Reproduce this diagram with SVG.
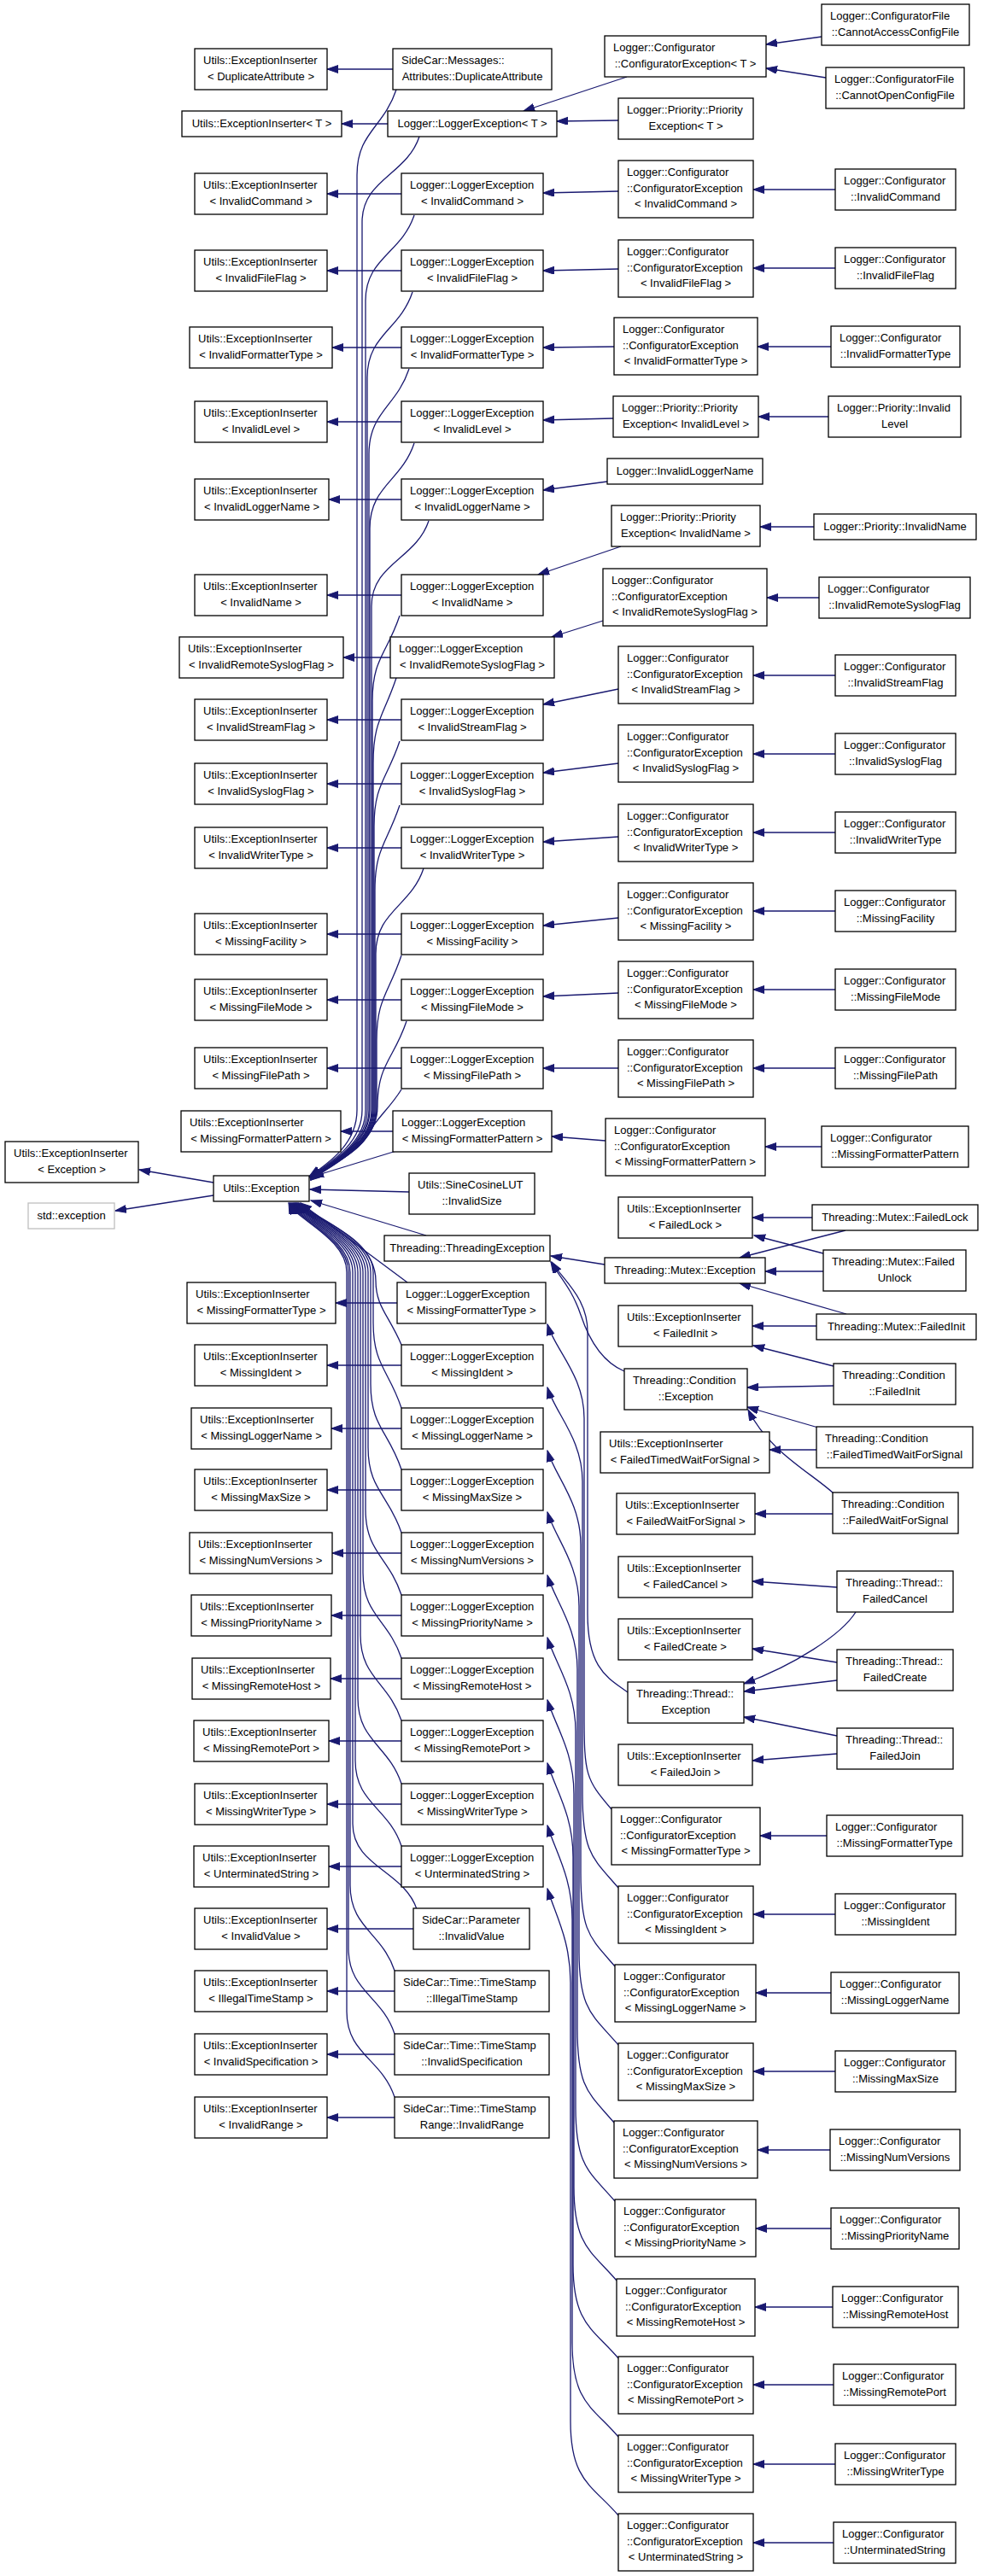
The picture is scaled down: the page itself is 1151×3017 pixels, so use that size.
<svg xmlns="http://www.w3.org/2000/svg" width="1151" height="3017" viewBox="0 0 1151 3017">
<style>
.b{fill:#fff;stroke:#000;stroke-width:1.3}
.g{fill:#fff;stroke:#bfbfbf;stroke-width:1.3}
text{font-family:"Liberation Sans",Arial,sans-serif;font-size:13px;fill:#000}
.c{text-anchor:middle}
#edges path{fill:none;stroke:#191970;stroke-width:1.3;marker-end:url(#a)}
</style>
<defs>
<marker id="a" markerWidth="14" markerHeight="10" refX="13" refY="4.5" orient="auto" markerUnits="userSpaceOnUse"><path d="M0,0 L13,4.5 L0,9 z" fill="#191970" stroke="#191970" stroke-width="1"/></marker>
</defs>
<rect width="1151" height="3017" fill="#fff"/>
<g id="edges">
<path d="M460,81 L383,81"/>
<path d="M454,145 L400,145"/>
<path d="M470,227 L383,227"/>
<path d="M470,317 L383,317"/>
<path d="M470,407 L389,407"/>
<path d="M470,494 L383,494"/>
<path d="M470,585 L385,585"/>
<path d="M470,697 L383,697"/>
<path d="M457,770 L402,770"/>
<path d="M470,843 L383,843"/>
<path d="M470,918 L383,918"/>
<path d="M470,993 L383,993"/>
<path d="M470,1094 L383,1094"/>
<path d="M470,1171 L383,1171"/>
<path d="M470,1251 L383,1251"/>
<path d="M460,1325 L399,1325"/>
<path d="M465,1526 L393,1526"/>
<path d="M470,1599 L383,1599"/>
<path d="M470,1673 L388,1673"/>
<path d="M470,1745 L383,1745"/>
<path d="M470,1819 L389,1819"/>
<path d="M470,1892 L388,1892"/>
<path d="M470,1966 L387,1966"/>
<path d="M470,2039 L385,2039"/>
<path d="M470,2113 L383,2113"/>
<path d="M470,2186 L385,2186"/>
<path d="M484,2259 L383,2259"/>
<path d="M462,2332 L383,2332"/>
<path d="M462,2406 L383,2406"/>
<path d="M462,2480 L383,2480"/>
<path d="M978,222 L882,222"/>
<path d="M978,314 L882,314"/>
<path d="M973,406 L887,406"/>
<path d="M970,488 L888,488"/>
<path d="M953,617 L890,617"/>
<path d="M959,700 L898,700"/>
<path d="M978,791 L882,791"/>
<path d="M978,883 L882,883"/>
<path d="M978,975 L882,975"/>
<path d="M978,1067 L882,1067"/>
<path d="M978,1159 L882,1159"/>
<path d="M978,1251 L882,1251"/>
<path d="M962,1343 L896,1343"/>
<path d="M968,2150 L890,2150"/>
<path d="M978,2242 L882,2242"/>
<path d="M973,2334 L885,2334"/>
<path d="M978,2426 L882,2426"/>
<path d="M972,2518 L887,2518"/>
<path d="M973,2610 L885,2610"/>
<path d="M975,2702 L884,2702"/>
<path d="M976,2793 L882,2793"/>
<path d="M978,2886 L882,2886"/>
<path d="M976,2978 L882,2978"/>
<path d="M962,43 L897,52"/>
<path d="M967,91 L897,80"/>
<path d="M734,90 L613,130"/>
<path d="M724,141 L652,142"/>
<path d="M724,224 L636,226"/>
<path d="M724,315 L636,317"/>
<path d="M719,406 L636,407"/>
<path d="M718,490 L636,492"/>
<path d="M711,564 L636,574"/>
<path d="M727,640 L630,673"/>
<path d="M706,727 L646,746"/>
<path d="M724,807 L636,825"/>
<path d="M724,894 L636,905"/>
<path d="M724,980 L636,986"/>
<path d="M724,1075 L636,1084"/>
<path d="M724,1163 L636,1167"/>
<path d="M724,1251 L636,1251"/>
<path d="M709,1336 L646,1331"/>
<path d="M464,105 C449,150 418,155 418,205 L418,1300 C418,1340 385,1362 362,1378"/>
<path d="M491,160 C476,205 424,210 424,260 L424,1300 C424,1340 386,1362 363,1378"/>
<path d="M485,252 C470,297 428,302 428,352 L428,1300 C428,1340 387,1362 363,1379"/>
<path d="M483,342 C468,387 430,392 430,442 L430,1300 C430,1340 388,1362 364,1379"/>
<path d="M479,432 C464,477 432,482 432,532 L432,1300 C432,1340 388,1362 364,1379"/>
<path d="M485,519 C470,564 433,569 433,619 L433,1300 C433,1340 389,1362 364,1380"/>
<path d="M502,610 C487,655 435,660 435,710 L435,1300 C435,1340 389,1362 364,1380"/>
<path d="M468,721 C453,766 436,771 436,821 L436,1300 C436,1340 390,1362 364,1380"/>
<path d="M464,794 C449,839 437,844 437,894 L437,1300 C437,1340 390,1362 364,1380"/>
<path d="M468,868 C453,913 438,918 438,968 L438,1300 C438,1340 390,1362 364,1381"/>
<path d="M468,943 C453,988 439,993 439,1043 L439,1300 C439,1340 391,1362 364,1381"/>
<path d="M496,1017 C481,1062 440,1067 440,1117 L440,1300 C440,1340 391,1362 364,1381"/>
<path d="M470,1119 C455,1164 441,1169 441,1219 L441,1300 C441,1340 392,1362 364,1381"/>
<path d="M476,1196 C461,1241 442,1246 442,1296 C442,1340 392,1362 364,1382"/>
<path d="M470,1276 C455,1300 440,1310 430,1330 C420,1350 385,1365 364,1382"/>
<path d="M464,1348 L366,1378"/>
<path d="M250,1385 L163,1370"/>
<path d="M250,1400 L135,1418"/>
<path d="M479,1396 L363,1393"/>
<path d="M499,1447 L364,1406"/>
<path d="M477,1502 L352,1409"/>
<path d="M470,1575 C455,1540 440,1530 440,1500 C440,1450 370,1428 350,1409"/>
<path d="M470,1649 C455,1604 437,1599 437,1549 L437,1490 C437,1450 368,1428 349,1409"/>
<path d="M470,1721 C455,1676 434,1671 434,1621 L434,1490 C434,1450 366,1428 348,1409"/>
<path d="M470,1795 C455,1750 431,1745 431,1695 L431,1490 C431,1450 364,1428 347,1409"/>
<path d="M470,1868 C455,1823 428,1818 428,1768 L428,1490 C428,1450 362,1428 346,1409"/>
<path d="M470,1942 C455,1897 425,1892 425,1842 L425,1490 C425,1450 360,1428 345,1409"/>
<path d="M470,2015 C455,1970 422,1965 422,1915 L422,1490 C422,1450 358,1428 344,1409"/>
<path d="M470,2089 C455,2044 419,2039 419,1989 L419,1490 C419,1450 356,1428 343,1409"/>
<path d="M470,2162 C455,2117 416,2112 416,2062 L416,1490 C416,1450 354,1428 342,1409"/>
<path d="M488,2236 C473,2191 413,2186 413,2136 L413,1490 C413,1450 352,1428 341,1409"/>
<path d="M462,2308 C447,2263 410,2258 410,2208 L410,1490 C410,1450 350,1428 340,1409"/>
<path d="M462,2382 C447,2337 408,2332 408,2282 L408,1490 C408,1450 348,1428 339,1409"/>
<path d="M462,2456 C447,2411 406,2406 406,2356 L406,1490 C406,1450 346,1428 338,1409"/>
<path d="M716,2119 C686,2084 684,2079 684,2009 L684,1661 C684,1611 650,1581 641,1551"/>
<path d="M724,2211 C694,2176 682,2171 682,2101 L682,1735 C682,1685 650,1655 641,1625"/>
<path d="M720,2303 C690,2268 680,2263 680,2193 L680,1809 C680,1759 650,1729 641,1699"/>
<path d="M724,2395 C694,2360 678,2355 678,2285 L678,1881 C678,1831 650,1801 641,1771"/>
<path d="M719,2486 C689,2451 676,2446 676,2376 L676,1955 C676,1905 650,1875 641,1845"/>
<path d="M720,2578 C690,2543 674,2538 674,2468 L674,2028 C674,1978 650,1948 641,1918"/>
<path d="M722,2671 C692,2636 672,2631 672,2561 L672,2101 C672,2051 650,2021 641,1991"/>
<path d="M724,2762 C694,2727 671,2722 671,2652 L671,2175 C671,2125 650,2095 641,2065"/>
<path d="M724,2854 C694,2819 670,2814 670,2744 L670,2248 C670,2198 650,2168 641,2138"/>
<path d="M724,2946 C694,2911 668,2906 668,2836 L668,2322 C668,2272 650,2242 641,2212"/>
<path d="M735,1982 C712,1965 688,1955 688,1890 L688,1560 C688,1520 660,1500 646,1478"/>
<path d="M731,1606 C705,1595 690,1570 680,1540 C670,1510 655,1495 645,1478"/>
<path d="M708,1481 L645,1471"/>
<path d="M951,1426 L881,1426"/>
<path d="M990,1441 L866,1473"/>
<path d="M964,1468 L883,1447"/>
<path d="M964,1489 L896,1489"/>
<path d="M956,1553 L881,1553"/>
<path d="M991,1539 L866,1503"/>
<path d="M976,1600 L882,1576"/>
<path d="M976,1623 L875,1625"/>
<path d="M956,1698 L901,1698"/>
<path d="M958,1672 L875,1648"/>
<path d="M975,1773 L884,1773"/>
<path d="M976,1749 C950,1725 900,1700 876,1651"/>
<path d="M980,1859 L881,1852"/>
<path d="M1002,1888 C985,1915 930,1950 871,1972"/>
<path d="M980,1947 L881,1931"/>
<path d="M980,1968 L871,1981"/>
<path d="M980,2033 L871,2011"/>
<path d="M980,2054 L881,2062"/>
</g>
<g id="n_ei_dup"><rect class="b" x="228" y="57" width="155" height="48"/><text x="238" y="75">Utils::ExceptionInserter</text><text class="c" x="305.5" y="93.5">&lt; DuplicateAttribute &gt;</text></g>
<g id="n_dup"><rect class="b" x="460" y="57" width="186" height="48"/><text x="470" y="75">SideCar::Messages::</text><text class="c" x="553" y="93.5">Attributes::DuplicateAttribute</text></g>
<g id="n_ce_t"><rect class="b" x="708" y="42" width="189" height="48"/><text x="718" y="60">Logger::Configurator</text><text class="c" x="802.5" y="78.5">::ConfiguratorException&lt; T &gt;</text></g>
<g id="n_cacf"><rect class="b" x="962" y="5" width="173" height="48"/><text x="972" y="23">Logger::ConfiguratorFile</text><text class="c" x="1048.5" y="41.5">::CannotAccessConfigFile</text></g>
<g id="n_cocf"><rect class="b" x="967" y="79" width="162" height="48"/><text x="977" y="97">Logger::ConfiguratorFile</text><text class="c" x="1048" y="115.5">::CannotOpenConfigFile</text></g>
<g id="n_ei_t"><rect class="b" x="213" y="130" width="187" height="30"/><text class="c" x="306.5" y="148.5">Utils::ExceptionInserter&lt; T &gt;</text></g>
<g id="n_le_t"><rect class="b" x="454" y="130" width="198" height="30"/><text class="c" x="553" y="148.5">Logger::LoggerException&lt; T &gt;</text></g>
<g id="n_pe_t"><rect class="b" x="724" y="115" width="158" height="48"/><text x="734" y="133">Logger::Priority::Priority</text><text class="c" x="803" y="151.5">Exception&lt; T &gt;</text></g>
<g id="n_ei_ic"><rect class="b" x="228" y="203" width="155" height="48"/><text x="238" y="221">Utils::ExceptionInserter</text><text class="c" x="305.5" y="239.5">&lt; InvalidCommand &gt;</text></g>
<g id="n_le_ic"><rect class="b" x="470" y="203" width="166" height="48"/><text x="480" y="221">Logger::LoggerException</text><text class="c" x="553" y="239.5">&lt; InvalidCommand &gt;</text></g>
<g id="n_ce_ic"><rect class="b" x="724" y="188" width="158" height="67"/><text x="734" y="206">Logger::Configurator</text><text x="734" y="224.5">::ConfiguratorException</text><text class="c" x="803" y="243">&lt; InvalidCommand &gt;</text></g>
<g id="n_c_ic"><rect class="b" x="978" y="198" width="141" height="48"/><text x="988" y="216">Logger::Configurator</text><text class="c" x="1048.5" y="234.5">::InvalidCommand</text></g>
<g id="n_ei_iff"><rect class="b" x="228" y="293" width="155" height="48"/><text x="238" y="311">Utils::ExceptionInserter</text><text class="c" x="305.5" y="329.5">&lt; InvalidFileFlag &gt;</text></g>
<g id="n_le_iff"><rect class="b" x="470" y="293" width="166" height="48"/><text x="480" y="311">Logger::LoggerException</text><text class="c" x="553" y="329.5">&lt; InvalidFileFlag &gt;</text></g>
<g id="n_ce_iff"><rect class="b" x="724" y="281" width="158" height="67"/><text x="734" y="299">Logger::Configurator</text><text x="734" y="317.5">::ConfiguratorException</text><text class="c" x="803" y="336">&lt; InvalidFileFlag &gt;</text></g>
<g id="n_c_iff"><rect class="b" x="978" y="290" width="141" height="48"/><text x="988" y="308">Logger::Configurator</text><text class="c" x="1048.5" y="326.5">::InvalidFileFlag</text></g>
<g id="n_ei_ift"><rect class="b" x="222" y="383" width="167" height="48"/><text x="232" y="401">Utils::ExceptionInserter</text><text class="c" x="305.5" y="419.5">&lt; InvalidFormatterType &gt;</text></g>
<g id="n_le_ift"><rect class="b" x="470" y="383" width="166" height="48"/><text x="480" y="401">Logger::LoggerException</text><text class="c" x="553" y="419.5">&lt; InvalidFormatterType &gt;</text></g>
<g id="n_ce_ift"><rect class="b" x="719" y="372" width="168" height="67"/><text x="729" y="390">Logger::Configurator</text><text x="729" y="408.5">::ConfiguratorException</text><text class="c" x="803" y="427">&lt; InvalidFormatterType &gt;</text></g>
<g id="n_c_ift"><rect class="b" x="973" y="382" width="151" height="48"/><text x="983" y="400">Logger::Configurator</text><text class="c" x="1048.5" y="418.5">::InvalidFormatterType</text></g>
<g id="n_ei_il"><rect class="b" x="228" y="470" width="155" height="48"/><text x="238" y="488">Utils::ExceptionInserter</text><text class="c" x="305.5" y="506.5">&lt; InvalidLevel &gt;</text></g>
<g id="n_le_il"><rect class="b" x="470" y="470" width="166" height="48"/><text x="480" y="488">Logger::LoggerException</text><text class="c" x="553" y="506.5">&lt; InvalidLevel &gt;</text></g>
<g id="n_pe_il"><rect class="b" x="718" y="464" width="170" height="48"/><text x="728" y="482">Logger::Priority::Priority</text><text class="c" x="803" y="500.5">Exception&lt; InvalidLevel &gt;</text></g>
<g id="n_p_il"><rect class="b" x="970" y="464" width="155" height="48"/><text x="980" y="482">Logger::Priority::Invalid</text><text class="c" x="1047.5" y="500.5">Level</text></g>
<g id="n_iln"><rect class="b" x="711" y="537" width="182" height="30"/><text class="c" x="802" y="555.5">Logger::InvalidLoggerName</text></g>
<g id="n_ei_iln"><rect class="b" x="228" y="561" width="157" height="48"/><text x="238" y="579">Utils::ExceptionInserter</text><text class="c" x="306.5" y="597.5">&lt; InvalidLoggerName &gt;</text></g>
<g id="n_le_iln"><rect class="b" x="470" y="561" width="166" height="48"/><text x="480" y="579">Logger::LoggerException</text><text class="c" x="553" y="597.5">&lt; InvalidLoggerName &gt;</text></g>
<g id="n_pe_in"><rect class="b" x="716" y="592" width="174" height="48"/><text x="726" y="610">Logger::Priority::Priority</text><text class="c" x="803" y="628.5">Exception&lt; InvalidName &gt;</text></g>
<g id="n_p_in"><rect class="b" x="953" y="602" width="190" height="30"/><text class="c" x="1048" y="620.5">Logger::Priority::InvalidName</text></g>
<g id="n_ei_in"><rect class="b" x="228" y="673" width="155" height="48"/><text x="238" y="691">Utils::ExceptionInserter</text><text class="c" x="305.5" y="709.5">&lt; InvalidName &gt;</text></g>
<g id="n_le_in"><rect class="b" x="470" y="673" width="166" height="48"/><text x="480" y="691">Logger::LoggerException</text><text class="c" x="553" y="709.5">&lt; InvalidName &gt;</text></g>
<g id="n_ce_irsf"><rect class="b" x="706" y="666" width="192" height="67"/><text x="716" y="684">Logger::Configurator</text><text x="716" y="702.5">::ConfiguratorException</text><text class="c" x="802" y="721">&lt; InvalidRemoteSyslogFlag &gt;</text></g>
<g id="n_c_irsf"><rect class="b" x="959" y="676" width="177" height="48"/><text x="969" y="694">Logger::Configurator</text><text class="c" x="1047.5" y="712.5">::InvalidRemoteSyslogFlag</text></g>
<g id="n_ei_irsf"><rect class="b" x="210" y="746" width="192" height="48"/><text x="220" y="764">Utils::ExceptionInserter</text><text class="c" x="306" y="782.5">&lt; InvalidRemoteSyslogFlag &gt;</text></g>
<g id="n_le_irsf"><rect class="b" x="457" y="746" width="192" height="48"/><text x="467" y="764">Logger::LoggerException</text><text class="c" x="553" y="782.5">&lt; InvalidRemoteSyslogFlag &gt;</text></g>
<g id="n_ce_isf"><rect class="b" x="724" y="757" width="158" height="67"/><text x="734" y="775">Logger::Configurator</text><text x="734" y="793.5">::ConfiguratorException</text><text class="c" x="803" y="812">&lt; InvalidStreamFlag &gt;</text></g>
<g id="n_c_isf"><rect class="b" x="978" y="767" width="141" height="48"/><text x="988" y="785">Logger::Configurator</text><text class="c" x="1048.5" y="803.5">::InvalidStreamFlag</text></g>
<g id="n_ei_isf"><rect class="b" x="228" y="819" width="155" height="48"/><text x="238" y="837">Utils::ExceptionInserter</text><text class="c" x="305.5" y="855.5">&lt; InvalidStreamFlag &gt;</text></g>
<g id="n_le_isf"><rect class="b" x="470" y="819" width="166" height="48"/><text x="480" y="837">Logger::LoggerException</text><text class="c" x="553" y="855.5">&lt; InvalidStreamFlag &gt;</text></g>
<g id="n_ce_isyf"><rect class="b" x="724" y="849" width="158" height="67"/><text x="734" y="867">Logger::Configurator</text><text x="734" y="885.5">::ConfiguratorException</text><text class="c" x="803" y="904">&lt; InvalidSyslogFlag &gt;</text></g>
<g id="n_c_isyf"><rect class="b" x="978" y="859" width="141" height="48"/><text x="988" y="877">Logger::Configurator</text><text class="c" x="1048.5" y="895.5">::InvalidSyslogFlag</text></g>
<g id="n_ei_isyf"><rect class="b" x="228" y="894" width="155" height="48"/><text x="238" y="912">Utils::ExceptionInserter</text><text class="c" x="305.5" y="930.5">&lt; InvalidSyslogFlag &gt;</text></g>
<g id="n_le_isyf"><rect class="b" x="470" y="894" width="166" height="48"/><text x="480" y="912">Logger::LoggerException</text><text class="c" x="553" y="930.5">&lt; InvalidSyslogFlag &gt;</text></g>
<g id="n_ce_iwt"><rect class="b" x="724" y="942" width="158" height="67"/><text x="734" y="960">Logger::Configurator</text><text x="734" y="978.5">::ConfiguratorException</text><text class="c" x="803" y="997">&lt; InvalidWriterType &gt;</text></g>
<g id="n_c_iwt"><rect class="b" x="978" y="951" width="141" height="48"/><text x="988" y="969">Logger::Configurator</text><text class="c" x="1048.5" y="987.5">::InvalidWriterType</text></g>
<g id="n_ei_iwt"><rect class="b" x="228" y="969" width="155" height="48"/><text x="238" y="987">Utils::ExceptionInserter</text><text class="c" x="305.5" y="1005.5">&lt; InvalidWriterType &gt;</text></g>
<g id="n_le_iwt"><rect class="b" x="470" y="969" width="166" height="48"/><text x="480" y="987">Logger::LoggerException</text><text class="c" x="553" y="1005.5">&lt; InvalidWriterType &gt;</text></g>
<g id="n_ce_mfa"><rect class="b" x="724" y="1034" width="158" height="67"/><text x="734" y="1052">Logger::Configurator</text><text x="734" y="1070.5">::ConfiguratorException</text><text class="c" x="803" y="1089">&lt; MissingFacility &gt;</text></g>
<g id="n_c_mfa"><rect class="b" x="978" y="1043" width="141" height="48"/><text x="988" y="1061">Logger::Configurator</text><text class="c" x="1048.5" y="1079.5">::MissingFacility</text></g>
<g id="n_ei_mfa"><rect class="b" x="228" y="1070" width="155" height="48"/><text x="238" y="1088">Utils::ExceptionInserter</text><text class="c" x="305.5" y="1106.5">&lt; MissingFacility &gt;</text></g>
<g id="n_le_mfa"><rect class="b" x="470" y="1070" width="166" height="48"/><text x="480" y="1088">Logger::LoggerException</text><text class="c" x="553" y="1106.5">&lt; MissingFacility &gt;</text></g>
<g id="n_ce_mfm"><rect class="b" x="724" y="1126" width="158" height="67"/><text x="734" y="1144">Logger::Configurator</text><text x="734" y="1162.5">::ConfiguratorException</text><text class="c" x="803" y="1181">&lt; MissingFileMode &gt;</text></g>
<g id="n_c_mfm"><rect class="b" x="978" y="1135" width="141" height="48"/><text x="988" y="1153">Logger::Configurator</text><text class="c" x="1048.5" y="1171.5">::MissingFileMode</text></g>
<g id="n_ei_mfm"><rect class="b" x="228" y="1147" width="155" height="48"/><text x="238" y="1165">Utils::ExceptionInserter</text><text class="c" x="305.5" y="1183.5">&lt; MissingFileMode &gt;</text></g>
<g id="n_le_mfm"><rect class="b" x="470" y="1147" width="166" height="48"/><text x="480" y="1165">Logger::LoggerException</text><text class="c" x="553" y="1183.5">&lt; MissingFileMode &gt;</text></g>
<g id="n_ce_mfp"><rect class="b" x="724" y="1218" width="158" height="67"/><text x="734" y="1236">Logger::Configurator</text><text x="734" y="1254.5">::ConfiguratorException</text><text class="c" x="803" y="1273">&lt; MissingFilePath &gt;</text></g>
<g id="n_c_mfp"><rect class="b" x="978" y="1227" width="141" height="48"/><text x="988" y="1245">Logger::Configurator</text><text class="c" x="1048.5" y="1263.5">::MissingFilePath</text></g>
<g id="n_ei_mfp"><rect class="b" x="228" y="1227" width="155" height="48"/><text x="238" y="1245">Utils::ExceptionInserter</text><text class="c" x="305.5" y="1263.5">&lt; MissingFilePath &gt;</text></g>
<g id="n_le_mfp"><rect class="b" x="470" y="1227" width="166" height="48"/><text x="480" y="1245">Logger::LoggerException</text><text class="c" x="553" y="1263.5">&lt; MissingFilePath &gt;</text></g>
<g id="n_ei_mfpat"><rect class="b" x="212" y="1301" width="187" height="48"/><text x="222" y="1319">Utils::ExceptionInserter</text><text class="c" x="305.5" y="1337.5">&lt; MissingFormatterPattern &gt;</text></g>
<g id="n_le_mfpat"><rect class="b" x="460" y="1301" width="186" height="48"/><text x="470" y="1319">Logger::LoggerException</text><text class="c" x="553" y="1337.5">&lt; MissingFormatterPattern &gt;</text></g>
<g id="n_ce_mfpat"><rect class="b" x="709" y="1310" width="187" height="67"/><text x="719" y="1328">Logger::Configurator</text><text x="719" y="1346.5">::ConfiguratorException</text><text class="c" x="802.5" y="1365">&lt; MissingFormatterPattern &gt;</text></g>
<g id="n_c_mfpat"><rect class="b" x="962" y="1319" width="172" height="48"/><text x="972" y="1337">Logger::Configurator</text><text class="c" x="1048" y="1355.5">::MissingFormatterPattern</text></g>
<g id="n_ei_exc"><rect class="b" x="6" y="1337" width="156" height="48"/><text x="16" y="1355">Utils::ExceptionInserter</text><text class="c" x="84" y="1373.5">&lt; Exception &gt;</text></g>
<g id="n_uexc"><rect class="b" x="250" y="1377" width="112" height="30"/><text class="c" x="306" y="1395.5">Utils::Exception</text></g>
<g id="n_stdexc"><rect class="g" x="33" y="1409" width="101" height="30"/><text class="c" x="83.5" y="1427.5">std::exception</text></g>
<g id="n_scl"><rect class="b" x="479" y="1374" width="147" height="48"/><text x="489" y="1392">Utils::SineCosineLUT</text><text class="c" x="552.5" y="1410.5">::InvalidSize</text></g>
<g id="n_ei_fl"><rect class="b" x="724" y="1402" width="157" height="48"/><text x="734" y="1420">Utils::ExceptionInserter</text><text class="c" x="802.5" y="1438.5">&lt; FailedLock &gt;</text></g>
<g id="n_m_fl"><rect class="b" x="951" y="1411" width="194" height="30"/><text class="c" x="1048" y="1429.5">Threading::Mutex::FailedLock</text></g>
<g id="n_thexc"><rect class="b" x="450" y="1447" width="194" height="30"/><text class="c" x="547" y="1465.5">Threading::ThreadingException</text></g>
<g id="n_m_exc"><rect class="b" x="708" y="1473" width="188" height="30"/><text class="c" x="802" y="1491.5">Threading::Mutex::Exception</text></g>
<g id="n_m_fu"><rect class="b" x="964" y="1464" width="167" height="48"/><text x="974" y="1482">Threading::Mutex::Failed</text><text class="c" x="1047.5" y="1500.5">Unlock</text></g>
<g id="n_ei_mft"><rect class="b" x="219" y="1502" width="174" height="48"/><text x="229" y="1520">Utils::ExceptionInserter</text><text class="c" x="306" y="1538.5">&lt; MissingFormatterType &gt;</text></g>
<g id="n_le_mft"><rect class="b" x="465" y="1502" width="174" height="48"/><text x="475" y="1520">Logger::LoggerException</text><text class="c" x="552" y="1538.5">&lt; MissingFormatterType &gt;</text></g>
<g id="n_ei_fi"><rect class="b" x="724" y="1529" width="157" height="48"/><text x="734" y="1547">Utils::ExceptionInserter</text><text class="c" x="802.5" y="1565.5">&lt; FailedInit &gt;</text></g>
<g id="n_m_fi"><rect class="b" x="956" y="1539" width="187" height="30"/><text class="c" x="1049.5" y="1557.5">Threading::Mutex::FailedInit</text></g>
<g id="n_ei_mi"><rect class="b" x="228" y="1575" width="155" height="48"/><text x="238" y="1593">Utils::ExceptionInserter</text><text class="c" x="305.5" y="1611.5">&lt; MissingIdent &gt;</text></g>
<g id="n_le_mi"><rect class="b" x="470" y="1575" width="166" height="48"/><text x="480" y="1593">Logger::LoggerException</text><text class="c" x="553" y="1611.5">&lt; MissingIdent &gt;</text></g>
<g id="n_c_exc"><rect class="b" x="731" y="1603" width="144" height="48"/><text x="741" y="1621">Threading::Condition</text><text class="c" x="803" y="1639.5">::Exception</text></g>
<g id="n_c_fi"><rect class="b" x="976" y="1597" width="143" height="48"/><text x="986" y="1615">Threading::Condition</text><text class="c" x="1047.5" y="1633.5">::FailedInit</text></g>
<g id="n_ei_mln"><rect class="b" x="224" y="1649" width="164" height="48"/><text x="234" y="1667">Utils::ExceptionInserter</text><text class="c" x="306" y="1685.5">&lt; MissingLoggerName &gt;</text></g>
<g id="n_le_mln"><rect class="b" x="470" y="1649" width="166" height="48"/><text x="480" y="1667">Logger::LoggerException</text><text class="c" x="553" y="1685.5">&lt; MissingLoggerName &gt;</text></g>
<g id="n_c_ftw"><rect class="b" x="956" y="1671" width="183" height="48"/><text x="966" y="1689">Threading::Condition</text><text class="c" x="1047.5" y="1707.5">::FailedTimedWaitForSignal</text></g>
<g id="n_ei_ftw"><rect class="b" x="703" y="1677" width="198" height="48"/><text x="713" y="1695">Utils::ExceptionInserter</text><text class="c" x="802" y="1713.5">&lt; FailedTimedWaitForSignal &gt;</text></g>
<g id="n_ei_mms"><rect class="b" x="228" y="1721" width="155" height="48"/><text x="238" y="1739">Utils::ExceptionInserter</text><text class="c" x="305.5" y="1757.5">&lt; MissingMaxSize &gt;</text></g>
<g id="n_le_mms"><rect class="b" x="470" y="1721" width="166" height="48"/><text x="480" y="1739">Logger::LoggerException</text><text class="c" x="553" y="1757.5">&lt; MissingMaxSize &gt;</text></g>
<g id="n_c_fw"><rect class="b" x="975" y="1748" width="147" height="48"/><text x="985" y="1766">Threading::Condition</text><text class="c" x="1048.5" y="1784.5">::FailedWaitForSignal</text></g>
<g id="n_ei_fw"><rect class="b" x="722" y="1749" width="162" height="48"/><text x="732" y="1767">Utils::ExceptionInserter</text><text class="c" x="803" y="1785.5">&lt; FailedWaitForSignal &gt;</text></g>
<g id="n_ei_mnv"><rect class="b" x="222" y="1795" width="167" height="48"/><text x="232" y="1813">Utils::ExceptionInserter</text><text class="c" x="305.5" y="1831.5">&lt; MissingNumVersions &gt;</text></g>
<g id="n_le_mnv"><rect class="b" x="470" y="1795" width="166" height="48"/><text x="480" y="1813">Logger::LoggerException</text><text class="c" x="553" y="1831.5">&lt; MissingNumVersions &gt;</text></g>
<g id="n_ei_fc"><rect class="b" x="724" y="1823" width="157" height="48"/><text x="734" y="1841">Utils::ExceptionInserter</text><text class="c" x="802.5" y="1859.5">&lt; FailedCancel &gt;</text></g>
<g id="n_t_fc"><rect class="b" x="980" y="1840" width="136" height="48"/><text x="990" y="1858">Threading::Thread::</text><text class="c" x="1048" y="1876.5">FailedCancel</text></g>
<g id="n_ei_mpn"><rect class="b" x="224" y="1868" width="164" height="48"/><text x="234" y="1886">Utils::ExceptionInserter</text><text class="c" x="306" y="1904.5">&lt; MissingPriorityName &gt;</text></g>
<g id="n_le_mpn"><rect class="b" x="470" y="1868" width="166" height="48"/><text x="480" y="1886">Logger::LoggerException</text><text class="c" x="553" y="1904.5">&lt; MissingPriorityName &gt;</text></g>
<g id="n_ei_fcr"><rect class="b" x="724" y="1896" width="157" height="48"/><text x="734" y="1914">Utils::ExceptionInserter</text><text class="c" x="802.5" y="1932.5">&lt; FailedCreate &gt;</text></g>
<g id="n_t_fcr"><rect class="b" x="980" y="1932" width="136" height="48"/><text x="990" y="1950">Threading::Thread::</text><text class="c" x="1048" y="1968.5">FailedCreate</text></g>
<g id="n_ei_mrh"><rect class="b" x="225" y="1942" width="162" height="48"/><text x="235" y="1960">Utils::ExceptionInserter</text><text class="c" x="306" y="1978.5">&lt; MissingRemoteHost &gt;</text></g>
<g id="n_le_mrh"><rect class="b" x="470" y="1942" width="166" height="48"/><text x="480" y="1960">Logger::LoggerException</text><text class="c" x="553" y="1978.5">&lt; MissingRemoteHost &gt;</text></g>
<g id="n_t_exc"><rect class="b" x="735" y="1970" width="136" height="48"/><text x="745" y="1988">Threading::Thread::</text><text class="c" x="803" y="2006.5">Exception</text></g>
<g id="n_t_fj"><rect class="b" x="980" y="2024" width="136" height="48"/><text x="990" y="2042">Threading::Thread::</text><text class="c" x="1048" y="2060.5">FailedJoin</text></g>
<g id="n_ei_fj"><rect class="b" x="724" y="2043" width="157" height="48"/><text x="734" y="2061">Utils::ExceptionInserter</text><text class="c" x="802.5" y="2079.5">&lt; FailedJoin &gt;</text></g>
<g id="n_ei_mrp"><rect class="b" x="227" y="2015" width="158" height="48"/><text x="237" y="2033">Utils::ExceptionInserter</text><text class="c" x="306" y="2051.5">&lt; MissingRemotePort &gt;</text></g>
<g id="n_le_mrp"><rect class="b" x="470" y="2015" width="166" height="48"/><text x="480" y="2033">Logger::LoggerException</text><text class="c" x="553" y="2051.5">&lt; MissingRemotePort &gt;</text></g>
<g id="n_ei_mwt"><rect class="b" x="228" y="2089" width="155" height="48"/><text x="238" y="2107">Utils::ExceptionInserter</text><text class="c" x="305.5" y="2125.5">&lt; MissingWriterType &gt;</text></g>
<g id="n_le_mwt"><rect class="b" x="470" y="2089" width="166" height="48"/><text x="480" y="2107">Logger::LoggerException</text><text class="c" x="553" y="2125.5">&lt; MissingWriterType &gt;</text></g>
<g id="n_ce_mft"><rect class="b" x="716" y="2117" width="174" height="67"/><text x="726" y="2135">Logger::Configurator</text><text x="726" y="2153.5">::ConfiguratorException</text><text class="c" x="803" y="2172">&lt; MissingFormatterType &gt;</text></g>
<g id="n_c_mft"><rect class="b" x="968" y="2126" width="159" height="48"/><text x="978" y="2144">Logger::Configurator</text><text class="c" x="1047.5" y="2162.5">::MissingFormatterType</text></g>
<g id="n_ei_us"><rect class="b" x="227" y="2162" width="158" height="48"/><text x="237" y="2180">Utils::ExceptionInserter</text><text class="c" x="306" y="2198.5">&lt; UnterminatedString &gt;</text></g>
<g id="n_le_us"><rect class="b" x="470" y="2162" width="166" height="48"/><text x="480" y="2180">Logger::LoggerException</text><text class="c" x="553" y="2198.5">&lt; UnterminatedString &gt;</text></g>
<g id="n_ce_mi"><rect class="b" x="724" y="2209" width="158" height="67"/><text x="734" y="2227">Logger::Configurator</text><text x="734" y="2245.5">::ConfiguratorException</text><text class="c" x="803" y="2264">&lt; MissingIdent &gt;</text></g>
<g id="n_c_mi"><rect class="b" x="978" y="2218" width="141" height="48"/><text x="988" y="2236">Logger::Configurator</text><text class="c" x="1048.5" y="2254.5">::MissingIdent</text></g>
<g id="n_ei_iv"><rect class="b" x="228" y="2235" width="155" height="48"/><text x="238" y="2253">Utils::ExceptionInserter</text><text class="c" x="305.5" y="2271.5">&lt; InvalidValue &gt;</text></g>
<g id="n_p_iv"><rect class="b" x="484" y="2235" width="136" height="48"/><text x="494" y="2253">SideCar::Parameter</text><text class="c" x="552" y="2271.5">::InvalidValue</text></g>
<g id="n_ce_mln"><rect class="b" x="720" y="2301" width="165" height="67"/><text x="730" y="2319">Logger::Configurator</text><text x="730" y="2337.5">::ConfiguratorException</text><text class="c" x="802.5" y="2356">&lt; MissingLoggerName &gt;</text></g>
<g id="n_c_mln"><rect class="b" x="973" y="2310" width="150" height="48"/><text x="983" y="2328">Logger::Configurator</text><text class="c" x="1048" y="2346.5">::MissingLoggerName</text></g>
<g id="n_ei_its"><rect class="b" x="228" y="2308" width="155" height="48"/><text x="238" y="2326">Utils::ExceptionInserter</text><text class="c" x="305.5" y="2344.5">&lt; IllegalTimeStamp &gt;</text></g>
<g id="n_ts_its"><rect class="b" x="462" y="2308" width="181" height="48"/><text x="472" y="2326">SideCar::Time::TimeStamp</text><text class="c" x="552.5" y="2344.5">::IllegalTimeStamp</text></g>
<g id="n_ei_is"><rect class="b" x="228" y="2382" width="155" height="48"/><text x="238" y="2400">Utils::ExceptionInserter</text><text class="c" x="305.5" y="2418.5">&lt; InvalidSpecification &gt;</text></g>
<g id="n_ts_is"><rect class="b" x="462" y="2382" width="181" height="48"/><text x="472" y="2400">SideCar::Time::TimeStamp</text><text class="c" x="552.5" y="2418.5">::InvalidSpecification</text></g>
<g id="n_ce_mms"><rect class="b" x="724" y="2393" width="158" height="67"/><text x="734" y="2411">Logger::Configurator</text><text x="734" y="2429.5">::ConfiguratorException</text><text class="c" x="803" y="2448">&lt; MissingMaxSize &gt;</text></g>
<g id="n_c_mms"><rect class="b" x="978" y="2402" width="141" height="48"/><text x="988" y="2420">Logger::Configurator</text><text class="c" x="1048.5" y="2438.5">::MissingMaxSize</text></g>
<g id="n_ei_ir"><rect class="b" x="228" y="2456" width="155" height="48"/><text x="238" y="2474">Utils::ExceptionInserter</text><text class="c" x="305.5" y="2492.5">&lt; InvalidRange &gt;</text></g>
<g id="n_tsr_ir"><rect class="b" x="462" y="2456" width="181" height="48"/><text x="472" y="2474">SideCar::Time::TimeStamp</text><text class="c" x="552.5" y="2492.5">Range::InvalidRange</text></g>
<g id="n_ce_mnv"><rect class="b" x="719" y="2484" width="168" height="67"/><text x="729" y="2502">Logger::Configurator</text><text x="729" y="2520.5">::ConfiguratorException</text><text class="c" x="803" y="2539">&lt; MissingNumVersions &gt;</text></g>
<g id="n_c_mnv"><rect class="b" x="972" y="2494" width="152" height="48"/><text x="982" y="2512">Logger::Configurator</text><text class="c" x="1048" y="2530.5">::MissingNumVersions</text></g>
<g id="n_ce_mpn"><rect class="b" x="720" y="2576" width="165" height="67"/><text x="730" y="2594">Logger::Configurator</text><text x="730" y="2612.5">::ConfiguratorException</text><text class="c" x="802.5" y="2631">&lt; MissingPriorityName &gt;</text></g>
<g id="n_c_mpn"><rect class="b" x="973" y="2586" width="150" height="48"/><text x="983" y="2604">Logger::Configurator</text><text class="c" x="1048" y="2622.5">::MissingPriorityName</text></g>
<g id="n_ce_mrh"><rect class="b" x="722" y="2669" width="162" height="67"/><text x="732" y="2687">Logger::Configurator</text><text x="732" y="2705.5">::ConfiguratorException</text><text class="c" x="803" y="2724">&lt; MissingRemoteHost &gt;</text></g>
<g id="n_c_mrh"><rect class="b" x="975" y="2678" width="147" height="48"/><text x="985" y="2696">Logger::Configurator</text><text class="c" x="1048.5" y="2714.5">::MissingRemoteHost</text></g>
<g id="n_ce_mrp"><rect class="b" x="724" y="2760" width="158" height="67"/><text x="734" y="2778">Logger::Configurator</text><text x="734" y="2796.5">::ConfiguratorException</text><text class="c" x="803" y="2815">&lt; MissingRemotePort &gt;</text></g>
<g id="n_c_mrp"><rect class="b" x="976" y="2769" width="143" height="48"/><text x="986" y="2787">Logger::Configurator</text><text class="c" x="1047.5" y="2805.5">::MissingRemotePort</text></g>
<g id="n_ce_mwt"><rect class="b" x="724" y="2852" width="158" height="67"/><text x="734" y="2870">Logger::Configurator</text><text x="734" y="2888.5">::ConfiguratorException</text><text class="c" x="803" y="2907">&lt; MissingWriterType &gt;</text></g>
<g id="n_c_mwt"><rect class="b" x="978" y="2862" width="141" height="48"/><text x="988" y="2880">Logger::Configurator</text><text class="c" x="1048.5" y="2898.5">::MissingWriterType</text></g>
<g id="n_ce_us"><rect class="b" x="724" y="2944" width="158" height="67"/><text x="734" y="2962">Logger::Configurator</text><text x="734" y="2980.5">::ConfiguratorException</text><text class="c" x="803" y="2999">&lt; UnterminatedString &gt;</text></g>
<g id="n_c_us"><rect class="b" x="976" y="2954" width="143" height="48"/><text x="986" y="2972">Logger::Configurator</text><text class="c" x="1047.5" y="2990.5">::UnterminatedString</text></g>
</svg>
